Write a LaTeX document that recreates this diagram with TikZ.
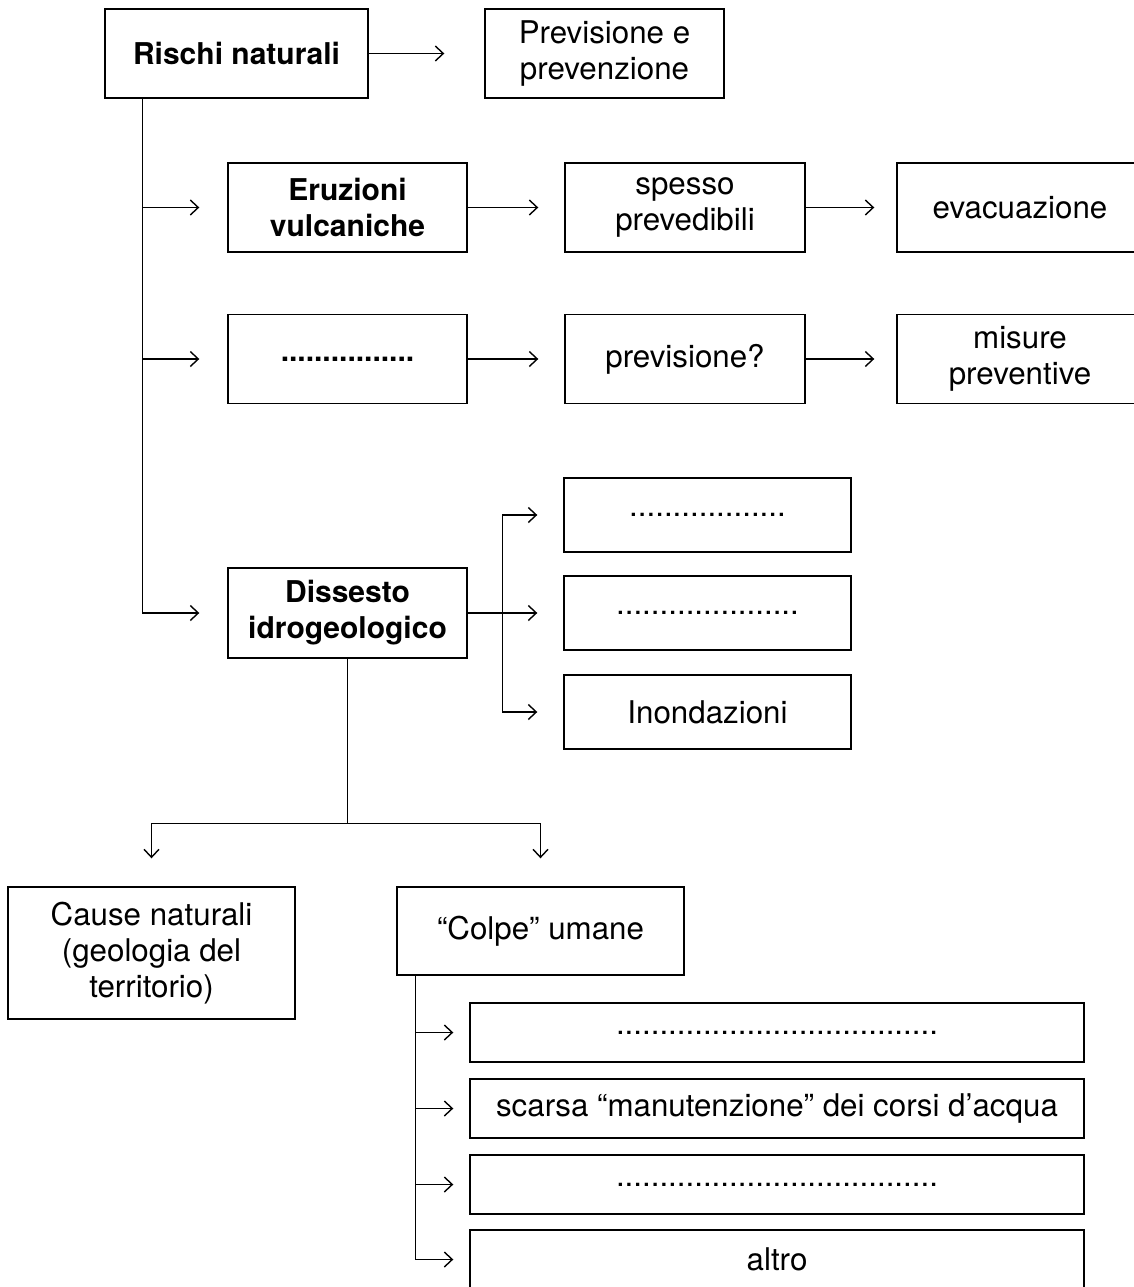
\documentclass[tikz,border=0pt]{standalone}
\usepackage{fontspec}
\setmainfont{TeX Gyre Heros}
\usetikzlibrary{arrows.meta}
\tikzset{
  box/.style={draw, line width=1.4pt, align=center, inner sep=0pt, minimum height=89pt,
    font=\fontsize{31.3}{36}\selectfont},
  hbox/.style={box, font=\fontsize{30}{36}\selectfont\bfseries},
  arr/.style={line width=1.4pt, -{Straight Barb[length=8pt,width=15pt]}},
  link/.style={line width=1.4pt}
}

\begin{document}
\begin{tikzpicture}[x=1pt, y=-1pt]
  \useasboundingbox (0,0) rectangle (1133,1287);
  \node[hbox, minimum width=263pt] (risk) at(236.5,53.5){Rischi naturali};
  \node[box, minimum width=239pt] (prev) at(604.5,53.5){Previsione e\\prevenzione};
  \node[hbox, minimum width=239pt] (erupt) at(347.5,207.5){Eruzioni\\vulcaniche};
  \node[box, minimum width=240pt] (often) at(685,207.5){spesso\\prevedibili};
  \node[box, minimum width=246pt] (evac) at(1020,207.5){evacuazione};
  \node[hbox, minimum width=239pt] (hazard) at(347.5,359){................};
  \node[box, minimum width=240pt] (forecast) at(685,359){previsione?};
  \node[box, minimum width=246pt] (measures) at(1020,359){misure\\preventive};
  \node[hbox, minimum width=239pt, minimum height=90pt] (instab) at(347.5,613){Dissesto\\idrogeologico};
  \node[box, minimum width=287pt, minimum height=74pt] (kindA) at(707.5,515){..................};
  \node[box, minimum width=287pt, minimum height=74pt] (kindB) at(707.5,613){.....................};
  \node[box, minimum width=287pt, minimum height=74pt] (flood) at(707.5,712){Inondazioni};
  \node[box, minimum width=287pt, minimum height=132pt] (nature) at(151.5,953){Cause naturali\\(geologia del\\territorio)};
  \node[box, minimum width=287pt, minimum height=88pt] (human) at(540.5,931){“Colpe” umane};
  \node[box, minimum width=614pt, minimum height=59pt] (causeA) at(777,1032.5){.....................................};
  \node[box, minimum width=614pt, minimum height=59pt] (causeB) at(777,1108.5){scarsa “manutenzione” dei corsi d’acqua};
  \node[box, minimum width=614pt, minimum height=59pt] (causeC) at(777,1184.5){.....................................};
  \node[box, minimum width=614pt, minimum height=59pt] (causeD) at(777,1259.5){altro};

  \coordinate (trunk) at([xshift=38pt]risk.south west);
  \coordinate (fork) at([xshift=35pt]instab.east);
  \coordinate (split) at([yshift=-165pt]instab.south);
  \coordinate (spine) at([xshift=19pt]human.south west);

  \draw[arr, shorten >=40pt] (risk) -- (prev);
  \draw[arr, shorten >=28pt] (trunk) |- (erupt);
  \draw[arr, shorten >=28pt] (trunk) |- (hazard);
  \draw[arr, shorten >=28pt] (trunk) |- (instab);
  \draw[arr, shorten >=26pt] (erupt) -- (often);
  \draw[arr, shorten >=22pt] (often) -- (evac);
  \draw[arr, shorten >=26pt] (hazard) -- (forecast);
  \draw[arr, shorten >=22pt] (forecast) -- (measures);
  \draw[arr, shorten >=26pt] (instab) -- (kindB);
  \draw[arr, shorten >=26pt] (fork) |- (kindA);
  \draw[arr, shorten >=26pt] (fork) |- (flood);
  \draw[link] (instab) -- (split);
  \draw[arr, shorten >=28pt] (split) -| (nature);
  \draw[arr, shorten >=28pt] (split) -| (human);
  \draw[arr, shorten >=16pt] (spine) |- (causeA);
  \draw[arr, shorten >=16pt] (spine) |- (causeB);
  \draw[arr, shorten >=16pt] (spine) |- (causeC);
  \draw[arr, shorten >=16pt] (spine) |- (causeD);
\end{tikzpicture}
\end{document}
